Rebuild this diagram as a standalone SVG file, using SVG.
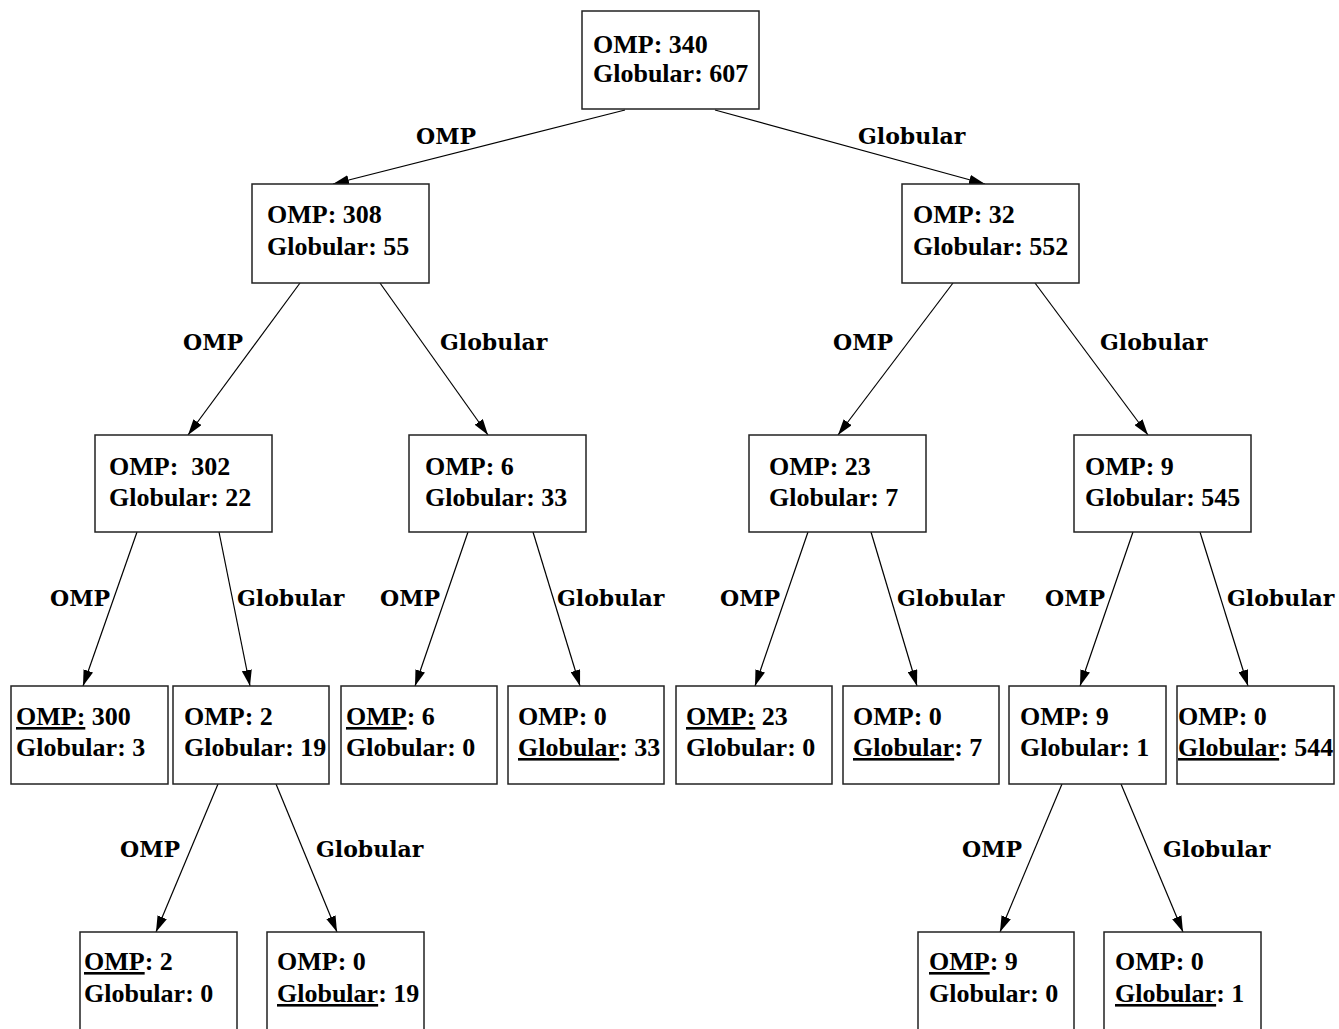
<svg xmlns="http://www.w3.org/2000/svg" width="1339" height="1029" viewBox="0 0 1339 1029">
<style>
.box{fill:#fff;stroke:#222;stroke-width:1.5}
.nt{font-family:"Liberation Serif",serif;font-weight:bold;font-size:26px;fill:#000}
.el{font-family:"DejaVu Serif",serif;font-weight:bold;font-size:22px;fill:#000}
.e{stroke:#000;stroke-width:1.2;fill:none;marker-end:url(#ah)}
.u{text-decoration:underline}
</style>
<defs>
<marker id="ah" viewBox="0 0 16 10" refX="16" refY="5" markerWidth="16" markerHeight="10" markerUnits="userSpaceOnUse" orient="auto">
<path d="M0,0 L16,5 L0,10 Z" fill="#000"/>
</marker>
</defs>
<rect width="1339" height="1029" fill="#fff"/>
<g id="connectors">
<line class="e" x1="625" y1="110" x2="333" y2="184"/>
<line class="e" x1="715" y1="110" x2="985" y2="184"/>
<line class="e" x1="300" y1="283" x2="188" y2="435"/>
<line class="e" x1="380" y1="283" x2="488" y2="435"/>
<line class="e" x1="953" y1="283" x2="838" y2="435"/>
<line class="e" x1="1035" y1="283" x2="1148" y2="435"/>
<line class="e" x1="137" y1="532" x2="83" y2="686"/>
<line class="e" x1="219" y1="532" x2="250" y2="686"/>
<line class="e" x1="468" y1="532" x2="415" y2="686"/>
<line class="e" x1="533" y1="532" x2="580" y2="686"/>
<line class="e" x1="808" y1="532" x2="755" y2="686"/>
<line class="e" x1="871" y1="532" x2="917" y2="686"/>
<line class="e" x1="1133" y1="532" x2="1080" y2="686"/>
<line class="e" x1="1200" y1="532" x2="1248" y2="686"/>
<line class="e" x1="218" y1="784" x2="156" y2="932"/>
<line class="e" x1="276" y1="784" x2="337" y2="932"/>
<line class="e" x1="1062" y1="784" x2="1000" y2="932"/>
<line class="e" x1="1121" y1="784" x2="1183" y2="932"/>
<text class="el" x="416" y="144">OMP</text>
<text class="el" x="858" y="144">Globular</text>
<text class="el" x="183" y="350">OMP</text>
<text class="el" x="440" y="350">Globular</text>
<text class="el" x="833" y="350">OMP</text>
<text class="el" x="1100" y="350">Globular</text>
<text class="el" x="50" y="606">OMP</text>
<text class="el" x="237" y="606">Globular</text>
<text class="el" x="380" y="606">OMP</text>
<text class="el" x="557" y="606">Globular</text>
<text class="el" x="720" y="606">OMP</text>
<text class="el" x="897" y="606">Globular</text>
<text class="el" x="1045" y="606">OMP</text>
<text class="el" x="1227" y="606">Globular</text>
<text class="el" x="120" y="857">OMP</text>
<text class="el" x="316" y="857">Globular</text>
<text class="el" x="962" y="857">OMP</text>
<text class="el" x="1163" y="857">Globular</text>
</g>
<g id="root"><rect class="box" x="582" y="11" width="177" height="98"/><text class="nt" x="593" y="53">OMP: 340</text><text class="nt" x="593" y="82">Globular: 607</text></g>
<g id="n_l"><rect class="box" x="252" y="184" width="177" height="99"/><text class="nt" x="267" y="223">OMP: 308</text><text class="nt" x="267" y="255">Globular: 55</text></g>
<g id="n_r"><rect class="box" x="902" y="184" width="177" height="99"/><text class="nt" x="913" y="223">OMP: 32</text><text class="nt" x="913" y="255">Globular: 552</text></g>
<g id="n_ll"><rect class="box" x="95" y="435" width="177" height="97"/><text class="nt" x="109" y="475" xml:space="preserve">OMP:  302</text><text class="nt" x="109" y="506">Globular: 22</text></g>
<g id="n_lr"><rect class="box" x="409" y="435" width="177" height="97"/><text class="nt" x="425" y="475">OMP: 6</text><text class="nt" x="425" y="506">Globular: 33</text></g>
<g id="n_rl"><rect class="box" x="749" y="435" width="177" height="97"/><text class="nt" x="769" y="475">OMP: 23</text><text class="nt" x="769" y="506">Globular: 7</text></g>
<g id="n_rr"><rect class="box" x="1074" y="435" width="177" height="97"/><text class="nt" x="1085" y="475">OMP: 9</text><text class="nt" x="1085" y="506">Globular: 545</text></g>
<g id="n_lll"><rect class="box" x="11" y="686" width="157" height="98"/><text class="nt" x="16" y="725"><tspan class="u">OMP:</tspan> 300</text><text class="nt" x="16" y="756">Globular: 3</text></g>
<g id="n_llr"><rect class="box" x="173" y="686" width="156" height="98"/><text class="nt" x="184" y="725">OMP: 2</text><text class="nt" x="184" y="756">Globular: 19</text></g>
<g id="n_lrl"><rect class="box" x="341" y="686" width="156" height="98"/><text class="nt" x="346" y="725"><tspan class="u">OMP</tspan>: 6</text><text class="nt" x="346" y="756">Globular: 0</text></g>
<g id="n_lrr"><rect class="box" x="508" y="686" width="156" height="98"/><text class="nt" x="518" y="725">OMP: 0</text><text class="nt" x="518" y="756"><tspan class="u">Globular</tspan>: 33</text></g>
<g id="n_rll"><rect class="box" x="676" y="686" width="156" height="98"/><text class="nt" x="686" y="725"><tspan class="u">OMP:</tspan> 23</text><text class="nt" x="686" y="756">Globular: 0</text></g>
<g id="n_rlr"><rect class="box" x="843" y="686" width="156" height="98"/><text class="nt" x="853" y="725">OMP: 0</text><text class="nt" x="853" y="756"><tspan class="u">Globular</tspan>: 7</text></g>
<g id="n_rrl"><rect class="box" x="1009" y="686" width="157" height="98"/><text class="nt" x="1020" y="725">OMP: 9</text><text class="nt" x="1020" y="756">Globular: 1</text></g>
<g id="n_rrr"><rect class="box" x="1177" y="686" width="157" height="98"/><text class="nt" x="1178" y="725">OMP: 0</text><text class="nt" x="1178" y="756"><tspan class="u">Globular</tspan>: 544</text></g>
<g id="n_llrl"><rect class="box" x="80" y="932" width="157" height="110"/><text class="nt" x="84" y="970"><tspan class="u">OMP</tspan>: 2</text><text class="nt" x="84" y="1002">Globular: 0</text></g>
<g id="n_llrr"><rect class="box" x="267" y="932" width="157" height="110"/><text class="nt" x="277" y="970">OMP: 0</text><text class="nt" x="277" y="1002"><tspan class="u">Globular</tspan>: 19</text></g>
<g id="n_rrll"><rect class="box" x="918" y="932" width="156" height="110"/><text class="nt" x="929" y="970"><tspan class="u">OMP</tspan>: 9</text><text class="nt" x="929" y="1002">Globular: 0</text></g>
<g id="n_rrlr"><rect class="box" x="1104" y="932" width="157" height="110"/><text class="nt" x="1115" y="970">OMP: 0</text><text class="nt" x="1115" y="1002"><tspan class="u">Globular</tspan>: 1</text></g>
</svg>
